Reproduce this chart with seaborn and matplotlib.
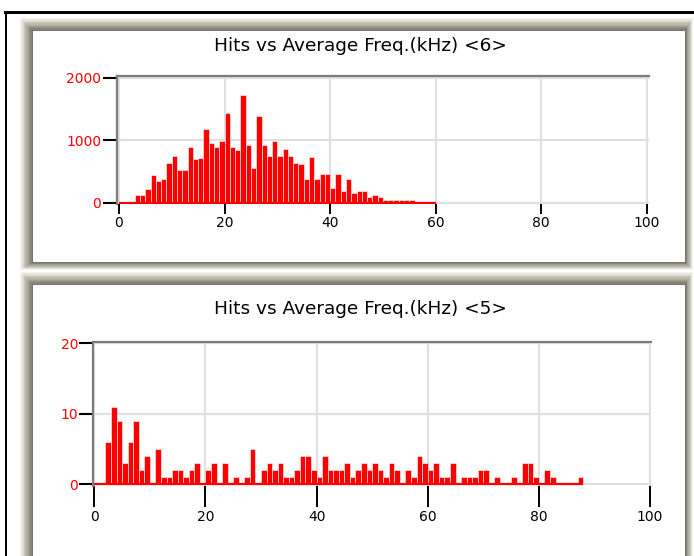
import numpy as np
import pandas as pd
import matplotlib
matplotlib.use("Agg")
import matplotlib.pyplot as plt
from matplotlib.patches import Rectangle
from matplotlib.colors import to_rgb
import seaborn as sns

# ---------------- data ----------------
title_top = "Hits vs Average Freq.(kHz) <6>"
title_bot = "Hits vs Average Freq.(kHz) <5>"

# hits per 1 kHz bin (bin k covers [k, k+1) kHz)
hits_ch6 = [0, 0, 0, 123, 123, 214, 438, 352, 385, 635,
            752, 523, 530, 891, 695, 722, 1179, 955, 891, 987,
            1440, 889, 848, 1723, 923, 550, 1380, 923, 752, 981,
            752, 864, 752, 638, 613, 380, 725, 380, 465, 465,
            240, 465, 180, 378, 150, 180, 180, 96, 120, 90,
            37, 37, 37, 37, 37, 37, 12, 10, 10, 10]
hits_ch5 = [0, 0, 6, 11, 9, 3, 6, 9, 2, 4,
            0, 5, 1, 1, 2, 2, 1, 2, 3, 0,
            2, 3, 0, 3, 0, 1, 0, 1, 5, 0,
            2, 3, 2, 3, 1, 1, 2, 4, 4, 2,
            1, 4, 2, 2, 2, 3, 1, 2, 3, 2,
            3, 2, 1, 3, 2, 0, 2, 1, 4, 3,
            2, 3, 1, 1, 3, 0, 1, 1, 1, 2,
            2, 0, 1, 0, 0, 1, 0, 3, 3, 1,
            0, 2, 1, 0, 0, 0, 0, 1]
freq_ch6 = [k + 0.5 for k in range(len(hits_ch6))]
freq_ch5 = [k + 0.5 for k in range(len(hits_ch5))]

x_ticks = [0, 20, 40, 60, 80, 100]
y_ticks_top = [0, 1000, 2000]
y_ticks_bot = [0, 10, 20]

# ---------------- style ----------------
sns.set_theme(style="white")
plt.rcParams["font.family"] = ["DejaVu Sans"]

W, H = 694, 556
fig = plt.figure(figsize=(W / 100, H / 100), dpi=100)
fig.patch.set_facecolor("white")


def prect(x0, y0, x1, y1, color, z=-10):
    fig.patches.append(Rectangle((x0 / W, 1 - y1 / H), (x1 - x0) / W, (y1 - y0) / H,
                                 transform=fig.transFigure, facecolor=color,
                                 edgecolor="none", zorder=z))


# outer black frame lines
prect(4, 11, 694, 13.5, "black")
prect(4.5, 11, 7, 556, "black")


# panel bevels (light outer edge -> dark inner edge)
def panel(x0, y0, x1, y1, tl=13, br=8, steps=10):
    c_out = np.array(to_rgb("#f6f5ee"))
    c_mid = np.array(to_rgb("#c8c6b8"))
    c_in = np.array(to_rgb("#76766a"))
    for i in range(steps):
        t = i / (steps - 1)
        if t < 0.35:
            c = c_out + (c_mid - c_out) * (t / 0.35)
        else:
            c = c_mid + (c_in - c_mid) * ((t - 0.35) / 0.65)
        f = i / steps
        prect(x0 + tl * f, y0 + tl * f, x1 - br * f, y1 - br * f, tuple(c), z=-10 + i * 0.01)
    prect(x0 + tl, y0 + tl, x1 - br, y1 - br, "white", z=-9)


panel(20, 18, 693, 270)
panel(20, 272, 693, 566)


def px_axes(left, top, right, bottom):
    return fig.add_axes([left / W, 1 - bottom / H, (right - left) / W, (bottom - top) / H])


def style_axes(ax, yticks, xtick_len, xpad):
    ax.set_facecolor("white")
    ax.grid(True, color="#e0e0e0", linewidth=1.6)
    ax.set_axisbelow(True)
    for s in ["right", "bottom"]:
        ax.spines[s].set_visible(False)
    for s in ["top", "left"]:
        ax.spines[s].set_color("#7c7c7c")
        ax.spines[s].set_linewidth(1.6)
    ax.set_xticks(x_ticks)
    ax.set_yticks(yticks)
    ax.tick_params(axis="y", colors="black", labelcolor="#ff0000", length=10,
                   width=1.5, pad=1, labelsize=10, direction="out", left=True)
    ax.tick_params(axis="x", colors="black", labelcolor="black", length=xtick_len,
                   width=1.4, pad=xpad, labelsize=10, direction="out", bottom=True)
    ax.set_xlabel("")
    ax.set_ylabel("")


def draw(ax, freq, hits):
    df = pd.DataFrame({"freq": freq, "hits": hits})
    n = len(freq)
    sns.histplot(data=df, x="freq", weights="hits", binwidth=1, binrange=(0, n), ax=ax,
                 color="#ff0000", alpha=1, edgecolor="white", linewidth=0.4)
    ax.hlines(0, 0, n, colors="#ff0000", linewidth=1.6, zorder=3)


# top panel
ax1 = px_axes(116.5, 76.5, 649, 204)
draw(ax1, freq_ch6, hits_ch6)
style_axes(ax1, y_ticks_top, 7, 1.5)
ax1.set_xlim(-0.47, 100.4)
ax1.set_ylim(-21, 2019)

# bottom panel
ax2 = px_axes(93.3, 342.3, 651, 486)
draw(ax2, freq_ch5, hits_ch5)
style_axes(ax2, y_ticks_bot, 15, 2.5)
ax2.set_xlim(-0.18, 100.18)
ax2.set_ylim(-0.24, 20.14)

fig.text(360 / W, 1 - 46 / H, title_top, ha="center", va="center", fontsize=13.3, color="black")
fig.text(360 / W, 1 - 309 / H, title_bot, ha="center", va="center", fontsize=13.3, color="black")

fig.savefig("out.png", dpi=100)
